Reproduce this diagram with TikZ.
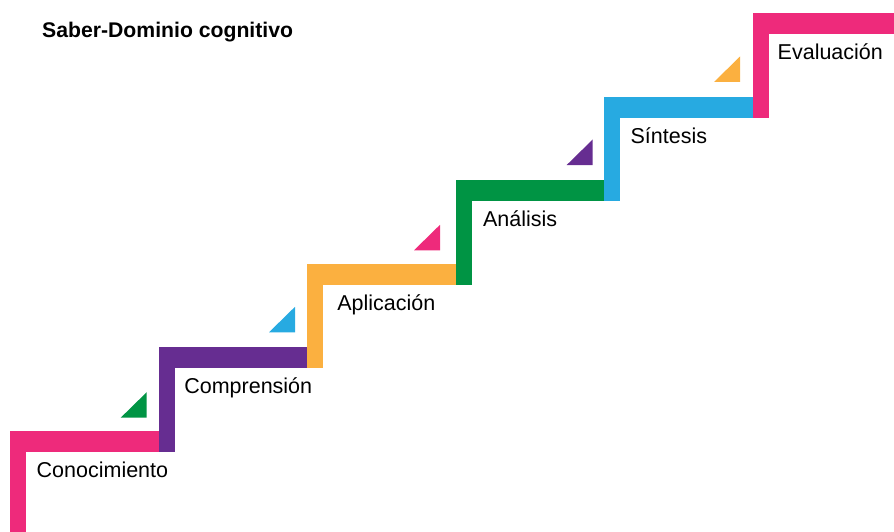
\documentclass[tikz,border=0pt]{standalone}
\usepackage{fontspec}
\setmainfont{Liberation Sans}
\definecolor{cpink}{HTML}{EE2A7B}
\definecolor{cpurple}{HTML}{662D91}
\definecolor{corange}{HTML}{FBB040}
\definecolor{cgreen}{HTML}{009444}
\definecolor{cblue}{HTML}{27AAE1}
\begin{document}
\begin{tikzpicture}[x=1pt,y=-1pt,
  bar/.style={fill=#1,draw=none},
  tri/.style={fill=#1,draw=none},
  steplabel/.style={anchor=base west,inner sep=0pt,font=\fontsize{21.5}{25}\selectfont},
  titlelabel/.style={anchor=base west,inner sep=0pt,font=\fontsize{21.2}{25}\selectfont\bfseries}]
\useasboundingbox (0,0) rectangle (894,532);
% stair geometry: left edge and top of each step
\def\sx{148.6}\def\sy{83.5}
\foreach \k/\c/\dx/\lab in {0/cpink/26.5/Conocimiento,1/cpurple/25.5/Comprensión,2/corange/30/Aplicación,3/cgreen/27/Análisis,4/cblue/26/Síntesis,5/cpink/24.5/Evaluación}{
  \pgfmathsetmacro{\xl}{10+\k*\sx}
  \pgfmathsetmacro{\yt}{430.7-\k*\sy}
  \pgfmathsetmacro{\xr}{\k<5 ? \xl+\sx : 894}
  \pgfmathsetmacro{\yb}{\k>0 ? \yt+\sy+21 : 532}
  % tread
  \fill[bar=\c] (\xl,\yt) rectangle (\xr,\yt+21);
  % riser
  \fill[bar=\c] (\xl,\yt) rectangle (\xl+16,\yb);
  \node[steplabel] (s\k) at (\xl+\dx,\yt+46.5) {\lab};
}
% small corner triangles between steps
\coordinate (g) at (146.7,417.7);
\coordinate (b) at (295,332.3);
\coordinate (p) at (440,250.3);
\coordinate (v) at (592.7,165);
\coordinate (o) at (740,82);
\fill[tri=cgreen]  (g) -- ++(-26,0) -- ++(26,-25.5) -- cycle;
\fill[tri=cblue]   (b) -- ++(-26,0) -- ++(26,-25.5) -- cycle;
\fill[tri=cpink]   (p) -- ++(-26,0) -- ++(26,-25.5) -- cycle;
\fill[tri=cpurple] (v) -- ++(-26,0) -- ++(26,-25.5) -- cycle;
\fill[tri=corange] (o) -- ++(-26,0) -- ++(26,-25.5) -- cycle;
\node[titlelabel] (title) at (42,37.3) {Saber-Dominio cognitivo};
\end{tikzpicture}
\end{document}
